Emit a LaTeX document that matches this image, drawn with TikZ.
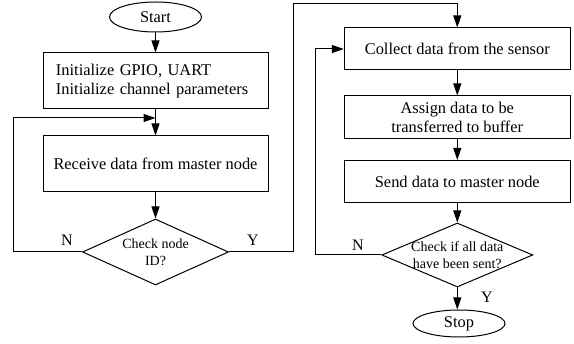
\documentclass[tikz,border=0pt]{standalone}
\usepackage{fontspec}
\setmainfont{Liberation Serif}
\usetikzlibrary{shapes.geometric,arrows.meta,calc}

\tikzset{
  every picture/.style={line width=1pt},
  box/.style={draw, rectangle, inner sep=0pt, align=center,
    font=\fontsize{16.4}{19}\selectfont},
  term/.style={draw, ellipse, inner sep=0pt, minimum width=92pt,
    font=\fontsize{16.4}{19}\selectfont},
  decision/.style={draw, diamond, inner sep=0pt},
  dtext/.style={align=center, font=\fontsize{14}{17}\selectfont, inner sep=0pt},
  arr/.style={-{Triangle[length=12pt,width=8pt]}},
  yn/.style={font=\fontsize{16}{19}\selectfont, inner sep=0pt}
}

\begin{document}
\begin{tikzpicture}[x=1pt,y=-1pt]
  \useasboundingbox (0,0) rectangle (574,344);

  % left column
  \node[term, minimum height=30pt] (start) at (155.5,17) {Start};
  \node[box, minimum width=225pt, minimum height=56pt, align=left,
        text width=199pt, inner xsep=13pt] (init) at (155.5,81)
        {Initialize GPIO, UART\\Initialize channel parameters};
  \node[box, minimum width=225pt, minimum height=56pt] (recv) at (155.5,164)
        {Receive data from master node};
  \node[decision, minimum width=146pt, minimum height=66pt] (chk1) at (155.5,252) {};
  \node[dtext] (chk1t) at (chk1) {Check node\\ID?};
  \coordinate (j1) at (155.5,118);

  % right column
  \node[box, minimum width=226pt, minimum height=42pt] (collect) at (457.3,49)
        {Collect data from the sensor};
  \node[box, minimum width=226pt, minimum height=43pt] (assign) at (457.3,117.5)
        {Assign data to be\\transferred to buffer};
  \node[box, minimum width=226pt, minimum height=42pt] (send) at (457.3,181.5)
        {Send data to master node};
  \node[decision, minimum width=151pt, minimum height=64pt] (chk2) at (457.3,255) {};
  \node[dtext] (chk2t) at (chk2) {Check if all data\\have been sent?};
  \node[term, minimum height=27pt] (stop) at (459,323.5) {Stop};

  % flow
  \draw[arr] (start) -- (init);
  \draw[arr] (init) -- (recv);
  \draw[arr] (recv) -- (chk1);
  \draw[arr] (chk1.west) -- ++(-69,0) |- (j1);
  \draw[arr] (chk1.east) -- ++(64,0) -- ++(0,-248) -| (collect.north);
  \draw[arr] (collect) -- (assign);
  \draw[arr] (assign) -- (send);
  \draw[arr] (send) -- (chk2);
  \draw[arr] (chk2.west) -- ++(-66,0) |- (collect.west);
  \draw[arr] (chk2.south) -- (stop.north -| chk2.south);

  % branch labels
  \node[yn] (n1) at (67,240) {N};
  \node[yn] (y1) at (253,240) {Y};
  \node[yn] (n2) at (358,245) {N};
  \node[yn] (y2) at (487,297) {Y};
\end{tikzpicture}
\end{document}
